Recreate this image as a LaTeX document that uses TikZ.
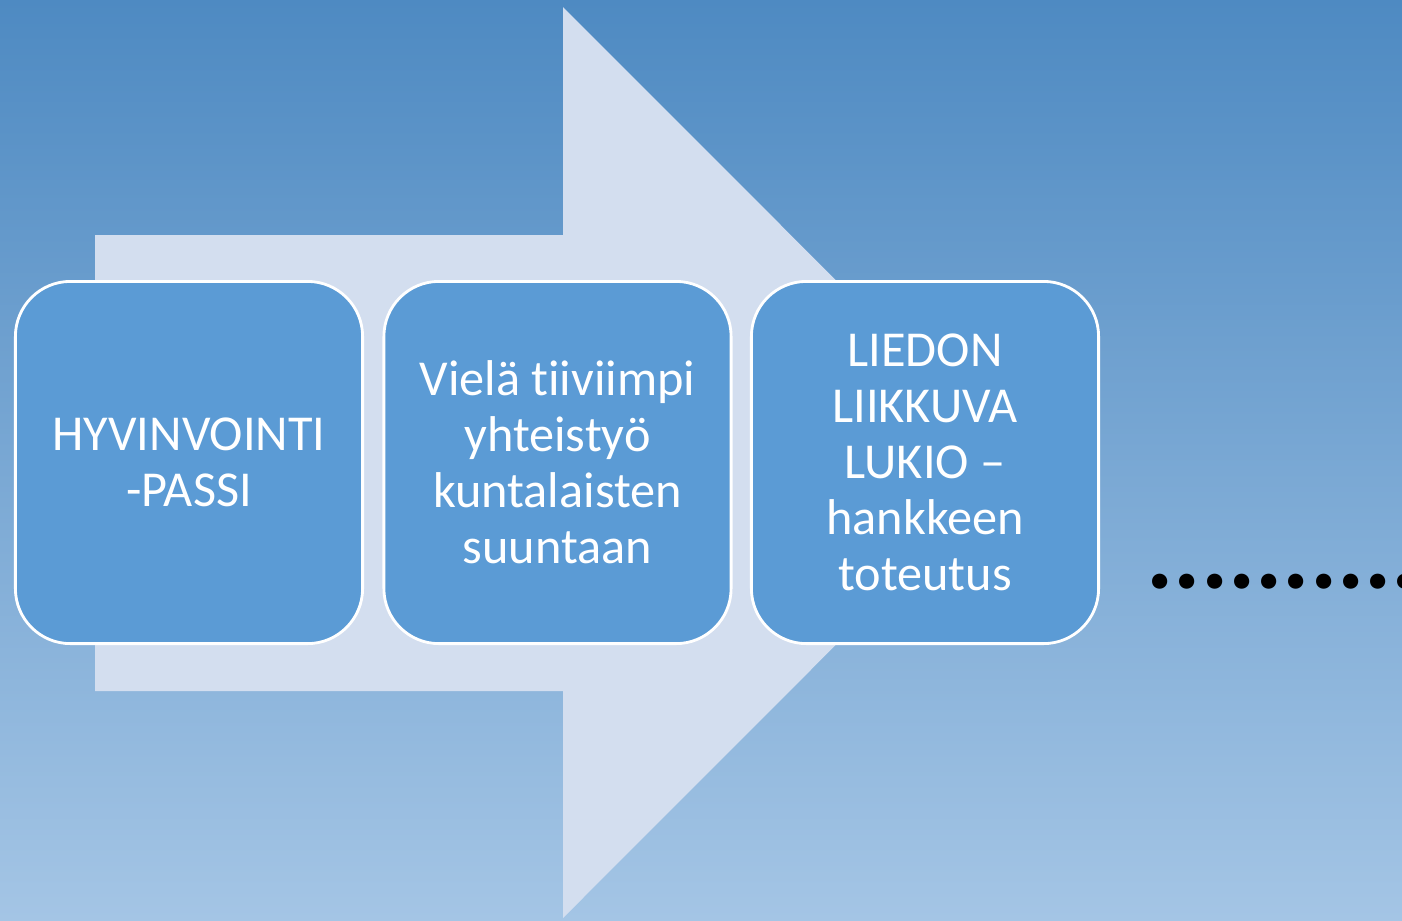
\documentclass[tikz,border=0pt]{standalone}
\usepackage{fontspec}
\setmainfont{Carlito}[Ligatures={TeX,NoCommon}]
\usetikzlibrary{positioning}

\definecolor{bgtop}{RGB}{78,138,194}
\definecolor{bgbottom}{RGB}{164,197,229}
\definecolor{arrowfill}{RGB}{211,222,239}
\definecolor{stagefill}{RGB}{91,155,213}

\tikzset{
  stage/.style={rectangle, rounded corners=0.55cm, draw=white, line width=0.8pt,
    fill=stagefill, minimum width=3.47cm, minimum height=3.62cm, inner sep=0pt,
    align=center, text=white, font=\fontsize{14.3}{15.9}\selectfont}
}

\begin{document}
\begin{tikzpicture}[x=0.01cm, y=-0.01cm]
\useasboundingbox (0,0) rectangle (1402,920);
\clip (0,0) rectangle (1402,920);
\shade[top color=bgtop, bottom color=bgbottom] (0,0) rectangle (1402,920);

% big arrow behind the stages
\fill[arrowfill] (95,235) -- (563,235) -- (563,7) -- (1018,462.5) -- (563,918)
  -- (563,691) -- (95,691) -- cycle;

\node[stage] (passi) at (189,462.5) {HYVINVOINTI\\-PASSI};
\node[stage] (yhteistyo) at (557.5,462.5) {Vielä tiiviimpi\\yhteistyö\\kuntalaisten\\suuntaan};
\node[stage] (lukio) at (925,462.5) {LIEDON\\LIIKKUVA\\LUKIO –\\hankkeen\\toteutus};

\node[anchor=base west, inner sep=0pt, font=\fontsize{29}{30}\selectfont\bfseries]
  (jatkuu) at (1146,588) {..........};
\end{tikzpicture}
\end{document}
